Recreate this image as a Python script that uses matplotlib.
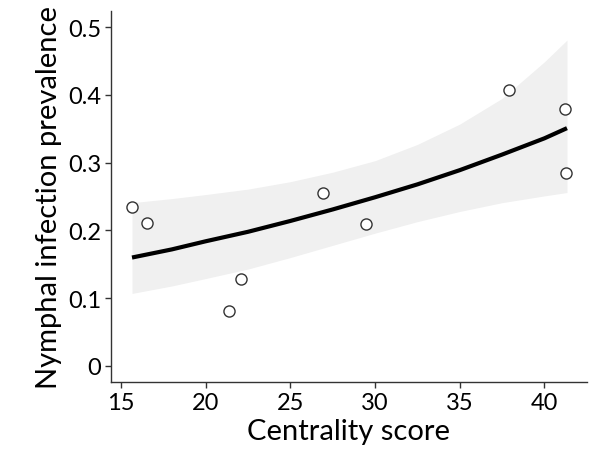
import matplotlib
matplotlib.use("Agg")
import matplotlib.pyplot as plt

# observed sites
centrality = [15.65, 16.53, 21.38, 22.08, 26.9, 29.48, 37.88, 41.2, 41.3]
prevalence = [0.234, 0.211, 0.081, 0.128, 0.255, 0.210, 0.407, 0.380, 0.285]

# fitted curve and confidence band
fit_x = [15.65, 18, 20, 22.5, 25, 27.5, 30, 32.5, 35, 37.5, 40, 41.33]
fit_y = [0.160, 0.172, 0.184, 0.198, 0.214, 0.231, 0.249, 0.268, 0.289, 0.312, 0.336, 0.351]
fit_lo = [0.107, 0.118, 0.129, 0.143, 0.160, 0.178, 0.196, 0.213, 0.228, 0.241, 0.251, 0.256]
fit_hi = [0.241, 0.247, 0.253, 0.261, 0.272, 0.286, 0.303, 0.327, 0.357, 0.395, 0.449, 0.481]

x_ticks = [15, 20, 25, 30, 35, 40]
y_ticks = [0, 0.1, 0.2, 0.3, 0.4, 0.5]
y_tick_labels = ["0", "0.1", "0.2", "0.3", "0.4", "0.5"]

plt.rcParams["font.family"] = ["Lato", "DejaVu Sans"]

fig = plt.figure(figsize=(6, 4.6), dpi=100)
ax = fig.add_axes([0.185, 0.167, 0.793, 0.807])

ax.fill_between(fit_x, fit_lo, fit_hi, color="#f0f0f0", linewidth=0, zorder=1)
ax.plot(fit_x, fit_y, color="black", linewidth=3, solid_capstyle="butt", zorder=2)
ax.plot(centrality, prevalence, linestyle="none", marker="o", markersize=8,
        markerfacecolor="white", markeredgecolor="#333333", markeredgewidth=1.0, zorder=3)

ax.set_xlim(14.41, 42.5)
ax.set_ylim(-0.024, 0.524)
ax.set_xticks(x_ticks)
ax.set_yticks(y_ticks, y_tick_labels)

for side in ("top", "right"):
    ax.spines[side].set_visible(False)
for side in ("left", "bottom"):
    ax.spines[side].set_color("#333333")
    ax.spines[side].set_linewidth(1.0)

ax.tick_params(colors="#333333", labelcolor="black", length=4, width=1.0, labelsize=17, pad=3)
ax.set_xlabel("Centrality score", fontsize=21, labelpad=4)
ax.set_ylabel("Nymphal infection prevalence", fontsize=21, labelpad=4)

fig.savefig("out.png", dpi=100)
